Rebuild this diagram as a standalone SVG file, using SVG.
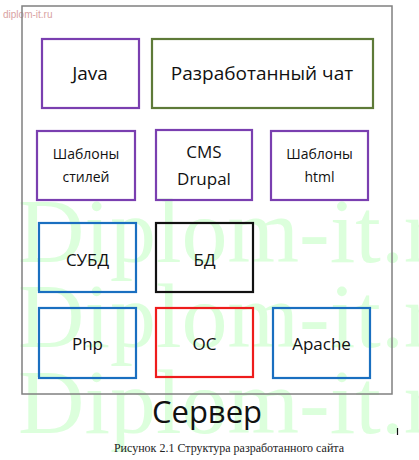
<svg xmlns="http://www.w3.org/2000/svg" width="419" height="460" viewBox="0 0 419 460">
<style>
.box{fill:none;stroke-width:2.2}
.pur{stroke:#7a3fb0}
.grn{stroke:#5e7a38}
.blu{stroke:#1a6fc0}
.red{stroke:#ee1c1c}
.blk{stroke:#111}
.t{font-family:"Open Sans","Noto Sans",sans-serif;fill:#111;text-anchor:middle}
.wm{font-family:"Liberation Serif",serif;font-size:92px;fill:#dcffdc}
</style>
<rect width="419" height="460" fill="#fff"/>
<g id="watermark">
<text class="wm" x="18" y="262">Diplom-it.ru</text>
<text class="wm" x="18" y="347">Diplom-it.ru</text>
<text class="wm" x="18" y="433">Diplom-it.ru</text>
<text x="3" y="18" font-family="Liberation Sans,sans-serif" font-size="10" fill="#d9a3a3">diplom-it.ru</text>
</g>
<g id="server">
<rect x="22" y="6" width="370" height="388" fill="none" stroke="#808080" stroke-width="1.5"/>
<text class="t" x="207" y="423" font-size="31">Сервер</text>
</g>
<g id="java"><rect class="box pur" x="42" y="39" width="97" height="69"/><text class="t" x="90" y="80" font-size="19">Java</text></g>
<g id="chat"><rect class="box grn" x="152" y="39" width="221" height="69"/><text class="t" x="262" y="80" font-size="19">Разработанный чат</text></g>
<g id="styles"><rect class="box pur" x="37" y="131" width="98" height="69"/><text class="t" x="86" y="159" font-size="14">Шаблоны</text><text class="t" x="86" y="182" font-size="14">стилей</text></g>
<g id="cms"><rect class="box pur" x="156" y="130" width="96" height="70"/><text class="t" x="204" y="158" font-size="17">CMS</text><text class="t" x="204" y="185" font-size="17">Drupal</text></g>
<g id="html"><rect class="box pur" x="271" y="131" width="97" height="69"/><text class="t" x="319.5" y="159" font-size="14">Шаблоны</text><text class="t" x="319.5" y="182" font-size="14">html</text></g>
<g id="dbms"><rect class="box blu" x="39" y="223" width="97" height="69"/><text class="t" x="87.5" y="266" font-size="17">СУБД</text></g>
<g id="db"><rect class="box blk" x="156" y="223" width="97" height="69"/><text class="t" x="204.5" y="266" font-size="17">БД</text></g>
<g id="php"><rect class="box blu" x="39" y="308" width="97" height="70"/><text class="t" x="87.5" y="350" font-size="17">Php</text></g>
<g id="os"><rect class="box red" x="156" y="308" width="97" height="69"/><text class="t" x="204.5" y="350" font-size="17">ОС</text></g>
<g id="apache"><rect class="box blu" x="273" y="308" width="97" height="70"/><text class="t" x="321.5" y="350" font-size="17">Apache</text></g>
<g id="connectors"></g>
<line x1="397.5" y1="428" x2="397.5" y2="435" stroke="#111" stroke-width="1.2"/>
<text x="229" y="452" font-family="Liberation Serif,serif" font-size="12" fill="#222" text-anchor="middle">Рисунок 2.1 Структура разработанного сайта</text>
</svg>
